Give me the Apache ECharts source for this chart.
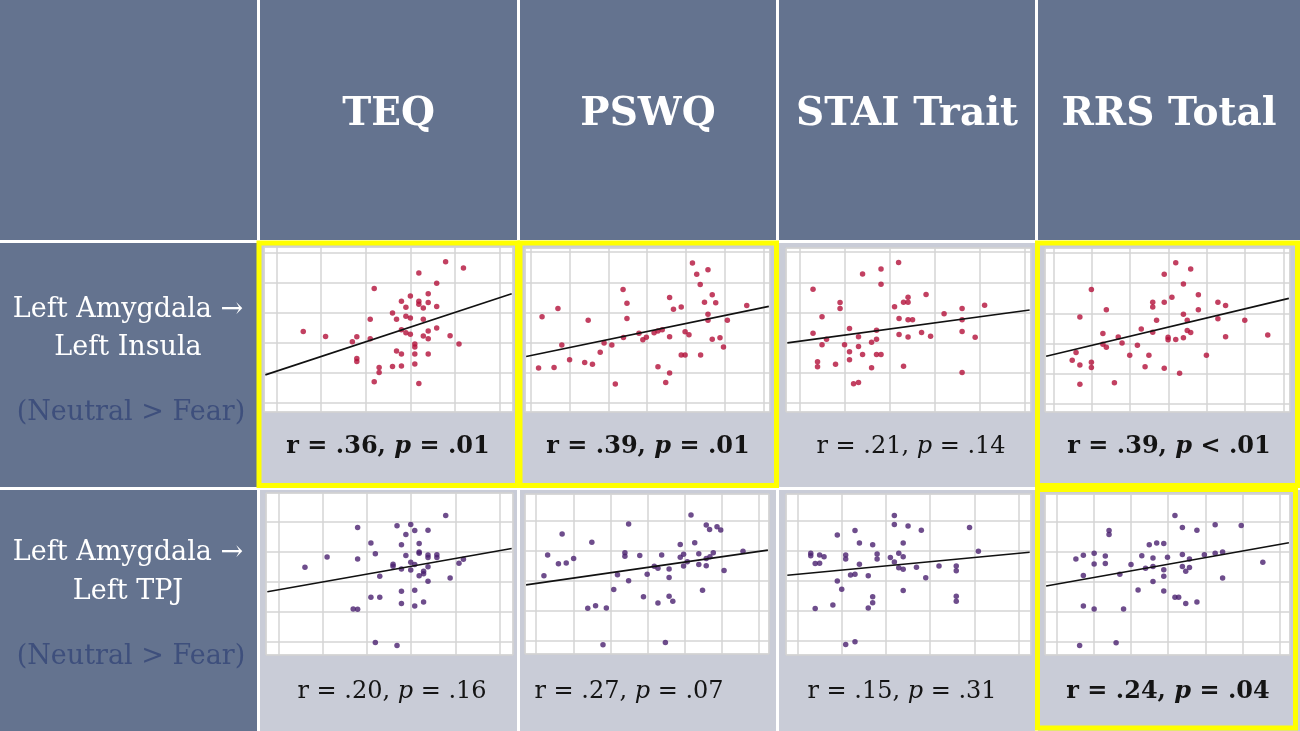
<!DOCTYPE html>
<html><head><meta charset="utf-8">
<script src="https://cdn.jsdelivr.net/npm/echarts@6/dist/echarts.min.js"></script>
<style>html,body{margin:0;padding:0;background:#fff}#c{width:1300px;height:731px}</style>
</head><body><div id="c"></div>
<script>
// ---------- text content ----------
const measures = ['TEQ', 'PSWQ', 'STAI Trait', 'RRS Total'];
const pathways = [['Left Amygdala \u2192', 'Left Insula'], ['Left Amygdala \u2192', 'Left TPJ']];
const contrastLabel = '(Neutral > Fear)';
const rValues = [['.36', '.39', '.21', '.39'], ['.20', '.27', '.15', '.24']];
const pValues = [['= .01', '= .01', '= .14', '< .01'], ['= .16', '= .07', '= .31', '= .04']];
const significant = [[true, true, false, true], [false, false, false, true]];

// ---------- scatter data (arbitrary units, grid spacing = 1) ----------
const insulaTEQ = [[3.79,4.70],[4.19,4.49],[3.19,4.32],[3.59,3.98],[2.19,3.81],[3.40,3.63],[3.00,3.56],[2.80,3.38],[3.19,3.38],[3.19,3.28],[3.40,3.34],[2.90,3.18],[3.29,3.16],[3.59,3.21],[2.60,2.99],[2.90,2.88],[3.00,2.82],[2.69,2.78],[2.10,2.78],[3.29,2.78],[0.60,2.37],[1.10,2.21],[1.80,2.20],[1.70,2.03],[2.10,2.13],[2.80,2.43],[2.90,2.33],[3.00,2.28],[3.40,2.39],[3.59,2.49],[3.29,2.22],[3.40,2.13],[3.89,2.23],[4.09,1.96],[3.10,1.96],[3.10,1.86],[2.69,1.72],[2.80,1.62],[3.10,1.62],[3.40,1.62],[1.80,1.47],[1.80,1.37],[2.30,1.17],[2.30,1.01],[2.60,1.21],[2.80,1.22],[3.10,1.29],[2.19,0.70],[3.19,0.64]];
const insulaPSWQ = [[4.17,4.64],[4.57,4.42],[4.28,4.27],[4.37,3.93],[2.38,3.76],[3.58,3.50],[4.68,3.59],[2.48,3.31],[4.48,3.34],[4.77,3.32],[3.68,3.11],[3.88,3.18],[5.57,3.23],[0.70,3.13],[0.29,2.86],[1.48,2.74],[2.48,2.80],[4.57,2.94],[4.57,2.74],[5.07,2.74],[0.80,1.92],[1.89,1.99],[2.09,1.92],[2.39,2.17],[2.79,2.31],[2.89,2.10],[2.98,2.18],[3.18,2.33],[3.28,2.39],[3.39,2.43],[3.58,2.20],[3.98,2.36],[4.08,2.26],[4.68,2.11],[4.88,2.16],[4.97,1.86],[1.79,1.68],[1.00,1.43],[1.39,1.34],[1.59,1.28],[3.88,1.59],[3.98,1.59],[4.38,1.59],[0.20,1.16],[0.60,1.18],[3.28,1.20],[3.58,0.99],[3.48,0.68],[2.18,0.63]];
const insulaSTAI = [[2.19,4.66],[1.80,4.44],[1.39,4.28],[1.80,3.94],[0.29,3.77],[2.80,3.60],[2.40,3.51],[2.30,3.34],[2.40,3.34],[0.89,3.33],[0.89,3.13],[2.10,3.19],[4.10,3.24],[3.60,3.13],[3.20,2.96],[0.49,2.86],[2.20,2.80],[2.40,2.76],[2.50,2.76],[3.60,2.76],[0.29,2.31],[1.10,2.47],[1.70,2.41],[1.30,2.20],[0.59,2.11],[1.70,2.11],[1.59,2.01],[2.20,2.27],[2.40,2.19],[2.70,2.34],[2.90,2.21],[3.60,2.37],[3.89,2.18],[0.49,1.93],[0.99,1.93],[1.30,1.87],[1.10,1.70],[1.39,1.61],[1.70,1.61],[1.80,1.61],[1.10,1.43],[0.39,1.37],[0.39,1.20],[0.79,1.28],[1.59,1.17],[2.30,1.22],[3.60,1.01],[1.19,0.64],[1.30,0.68]];
const insulaRRS = [[3.19,4.68],[3.58,4.47],[2.89,4.30],[3.39,3.97],[0.99,3.79],[3.78,3.62],[3.09,3.53],[2.89,3.37],[2.59,3.37],[2.59,3.21],[4.29,3.37],[4.49,3.26],[1.38,3.12],[3.78,3.12],[0.69,2.88],[3.39,2.97],[4.29,2.82],[2.69,2.77],[3.49,2.77],[4.99,2.77],[1.29,2.33],[2.29,2.48],[2.59,2.37],[3.49,2.43],[3.58,2.36],[1.69,2.21],[2.99,2.20],[2.99,2.12],[3.19,2.13],[3.39,2.19],[4.49,2.22],[5.59,2.28],[0.59,1.70],[1.29,1.97],[1.38,1.87],[1.79,2.01],[2.19,1.94],[1.99,1.61],[2.49,1.61],[3.99,1.61],[0.49,1.44],[0.69,1.28],[0.99,1.37],[0.99,1.20],[2.39,1.22],[2.89,1.17],[3.29,1.01],[0.69,0.64],[1.59,0.69]];
const tpjTEQ = [[3.78,4.22],[1.79,3.82],[2.68,3.88],[2.99,3.92],[3.08,3.72],[3.38,3.73],[2.88,3.58],[2.09,3.30],[2.78,3.24],[3.18,3.28],[3.18,3.00],[3.18,2.96],[2.19,2.94],[2.88,2.88],[1.10,2.83],[1.79,2.77],[3.38,2.90],[3.38,2.82],[3.58,2.91],[3.58,2.82],[2.99,2.66],[3.08,2.58],[2.59,2.59],[2.59,2.52],[0.60,2.49],[2.78,2.43],[2.99,2.40],[3.38,2.51],[4.08,2.62],[4.18,2.76],[3.28,2.36],[3.28,2.27],[3.18,2.21],[2.29,2.19],[3.88,2.13],[3.38,2.02],[2.78,1.69],[3.08,1.72],[2.09,1.49],[2.29,1.49],[2.78,1.28],[3.08,1.20],[3.28,1.33],[1.69,1.10],[1.79,1.09],[2.19,-0.02],[2.68,-0.12]];
const tpjPSWQ = [[4.17,4.19],[2.49,3.89],[0.70,3.56],[4.58,3.86],[4.67,3.71],[4.87,3.80],[4.97,3.69],[1.50,3.28],[3.88,3.21],[4.27,3.27],[0.31,2.86],[0.60,2.57],[0.81,2.59],[1.01,2.74],[2.39,2.93],[2.39,2.82],[2.79,2.84],[3.38,2.86],[3.88,2.78],[3.97,2.88],[4.38,2.90],[4.58,2.74],[4.68,2.80],[4.77,2.93],[5.57,2.98],[4.07,2.63],[3.97,2.49],[4.38,2.54],[4.58,2.50],[3.18,2.48],[3.28,2.42],[3.58,2.39],[3.58,2.11],[5.06,2.34],[0.21,2.17],[2.19,2.20],[2.99,2.22],[2.49,2.00],[2.09,1.71],[4.48,1.68],[2.89,1.47],[3.58,1.48],[3.68,1.32],[3.28,1.26],[1.39,1.08],[1.60,1.17],[1.89,1.09],[1.80,-0.13],[3.48,-0.06]];
const tpjSTAI = [[2.19,4.19],[2.19,3.89],[2.50,3.84],[2.80,3.70],[3.89,3.79],[1.30,3.69],[0.90,3.54],[1.40,3.27],[1.70,3.21],[2.39,3.27],[4.09,2.99],[0.30,2.93],[0.30,2.84],[0.50,2.87],[0.60,2.81],[1.09,2.87],[1.09,2.73],[1.80,2.90],[1.80,2.73],[2.10,2.78],[2.29,2.93],[2.39,2.81],[0.40,2.58],[0.50,2.59],[1.40,2.56],[2.19,2.63],[2.29,2.44],[2.39,2.39],[2.69,2.46],[3.20,2.50],[3.59,2.50],[3.59,2.34],[1.20,2.20],[1.30,2.22],[1.60,2.17],[2.90,2.11],[0.90,2.00],[1.00,1.72],[2.39,1.68],[1.70,1.47],[1.70,1.27],[3.59,1.49],[3.59,1.32],[0.80,1.19],[0.40,1.08],[1.60,1.09],[1.30,-0.04],[1.09,-0.13]];
const tpjRRS = [[3.18,4.22],[4.26,3.91],[4.96,3.89],[3.38,3.82],[3.77,3.73],[1.41,3.72],[1.41,3.59],[2.49,3.24],[2.69,3.30],[2.88,3.29],[0.52,2.77],[0.72,2.89],[1.01,2.96],[1.31,2.87],[2.29,2.88],[2.59,2.80],[2.98,2.83],[3.38,2.92],[3.97,2.91],[4.26,2.96],[4.46,3.00],[3.57,2.77],[1.01,2.60],[1.31,2.62],[2.00,2.58],[2.39,2.46],[2.59,2.52],[2.88,2.41],[3.38,2.52],[3.57,2.48],[3.47,2.36],[5.54,2.66],[0.72,2.22],[1.70,2.26],[2.88,2.19],[4.46,2.13],[2.59,2.02],[2.19,1.73],[2.88,1.70],[3.18,1.49],[3.28,1.49],[3.47,1.28],[3.77,1.33],[0.72,1.20],[1.01,1.10],[1.80,1.10],[0.62,-0.12],[1.60,-0.03]];
const plotData = [insulaTEQ, insulaPSWQ, insulaSTAI, insulaRRS, tpjTEQ, tpjPSWQ, tpjSTAI, tpjRRS];

// regression lines
const fitSlopes = [0.49, 0.266, 0.203, 0.304, 0.261, 0.178, 0.141, 0.221];
const fitIntercepts = [1.05, 1.57, 2.05, 1.63, 1.74, 1.91, 2.22, 1.93];

// visible axis extents per plot [xmin, xmax, ymin, ymax]
const axisExtents = [
  [-0.28, 5.30, -0.31, 5.19], [-0.15, 6.17, -0.30, 5.14], [-0.31, 5.13, -0.30, 5.14], [-0.22, 6.17, -0.28, 5.17],
  [-0.28, 5.30, -0.44, 4.97], [-0.30, 6.27, -0.44, 4.89], [-0.26, 5.28, -0.48, 4.91], [-0.31, 6.27, -0.44, 4.94]
];

// ---------- layout ----------
const cols = [[0, 257], [260, 517], [520, 776], [779, 1035], [1038, 1300]];
const rows = [[0, 240], [243, 487], [490, 731]];
const plotBoxes = [
  [264, 247, 513, 412], [525, 248, 770, 412], [786, 248, 1031, 412], [1045, 248, 1290, 412],
  [266, 493, 513, 655], [525, 494, 769, 654], [786, 494, 1031, 655], [1045, 494, 1290, 655]
];
const statX = [[388, 648, 911, 1169], [392, 629, 902, 1168]];
const statY = [447, 692];
const HEAD = '#64738f', CELL = '#c9ccd7', YELLOW = '#ffff00';
const FONT = "'DejaVu Serif', 'Liberation Serif', serif";
const dotColors = ['#b3103a', '#4a216f'];

const chart = echarts.init(document.getElementById('c'));
const elements = [];
// cell backgrounds
for (let r = 0; r < 3; r++) {
  for (let c = 0; c < 5; c++) {
    const isHead = r === 0 || c === 0;
    elements.push({ type: 'rect', z: -10, silent: true,
      shape: { x: cols[c][0], y: rows[r][0], width: cols[c][1] - cols[c][0], height: rows[r][1] - rows[r][0] },
      style: { fill: isHead ? HEAD : CELL } });
  }
}
// headers
measures.forEach((m, i) => {
  const cx = (cols[i + 1][0] + cols[i + 1][1]) / 2;
  elements.push({ type: 'text', z: 50, silent: true,
    style: { text: m, x: cx, y: 115, fill: '#ffffff', font: 'bold 39px ' + FONT,
      align: 'center', verticalAlign: 'middle', textAlign: 'center', textVerticalAlign: 'middle' } });
});
// row labels
const labelY = [[310, 348, 413], [553, 592, 657]];
pathways.forEach((p, r) => {
  [p[0], p[1], contrastLabel].forEach((t, k) => {
    elements.push({ type: 'text', z: 50, silent: true,
      style: { text: t, x: k === 2 ? 131 : 128, y: labelY[r][k], fill: k === 2 ? '#3e4f7c' : '#ffffff',
        font: '27px ' + FONT, align: 'center', verticalAlign: 'middle', textAlign: 'center', textVerticalAlign: 'middle' } });
  });
});
// statistics
for (let r = 0; r < 2; r++) {
  for (let c = 0; c < 4; c++) {
    const w = significant[r][c] ? 'bold' : 'normal';
    elements.push({ type: 'text', z: 50, silent: true,
      style: { text: '{n|r = ' + rValues[r][c] + ', }{i|p}{n| ' + pValues[r][c] + '}',
        x: statX[r][c], y: statY[r], align: 'center', verticalAlign: 'middle', textAlign: 'center', textVerticalAlign: 'middle',
        rich: {
          n: { fontFamily: FONT, fontSize: 24, fontWeight: w, fill: '#141414', color: '#141414' },
          i: { fontFamily: FONT, fontSize: 24, fontWeight: w, fontStyle: 'italic', fill: '#141414', color: '#141414' }
        } } });
  }
}
// yellow highlight frames
const frames = [[259, 243, 517.5, 485.5], [520, 243, 776.5, 485.5], [1037.5, 243, 1297.5, 485.5], [1037.5, 489.5, 1295.5, 728]];
frames.forEach(f => elements.push({ type: 'rect', z: 60, silent: true,
  shape: { x: f[0], y: f[1], width: f[2] - f[0], height: f[3] - f[1] },
  style: { fill: 'none', stroke: YELLOW, lineWidth: 5 } }));

const grids = [], xAxes = [], yAxes = [], series = [];
plotData.forEach((d, i) => {
  const b = plotBoxes[i], e = axisExtents[i];
  grids.push({ left: b[0], top: b[1], width: b[2] - b[0], height: b[3] - b[1], show: true,
    backgroundColor: '#ffffff', borderColor: '#c4c4c4', borderWidth: 1, containLabel: false });
  const ax = (min, max) => ({ type: 'value', gridIndex: i, min: min, max: max, minInterval: 1, maxInterval: 1,
    axisLabel: { show: false }, axisTick: { show: false }, axisLine: { show: false },
    splitLine: { show: true, lineStyle: { color: '#d4d4d4', width: 1.5 } } });
  xAxes.push(ax(e[0], e[1]));
  yAxes.push(ax(e[2], e[3]));
  series.push({ type: 'scatter', xAxisIndex: i, yAxisIndex: i, data: d, symbolSize: 5.5,
    itemStyle: { color: dotColors[i < 4 ? 0 : 1] }, z: 3 });
  const x0 = e[0] + 0.03, x1 = e[1] - 0.03;
  series.push({ type: 'line', xAxisIndex: i, yAxisIndex: i, symbol: 'none', z: 4,
    data: [[x0, fitIntercepts[i] + fitSlopes[i] * x0], [x1, fitIntercepts[i] + fitSlopes[i] * x1]],
    lineStyle: { color: '#111111', width: 1.6 } });
});

chart.setOption({
  animation: false,
  backgroundColor: '#ffffff',
  graphic: { elements: elements },
  grid: grids, xAxis: xAxes, yAxis: yAxes, series: series
});
</script></body></html>
